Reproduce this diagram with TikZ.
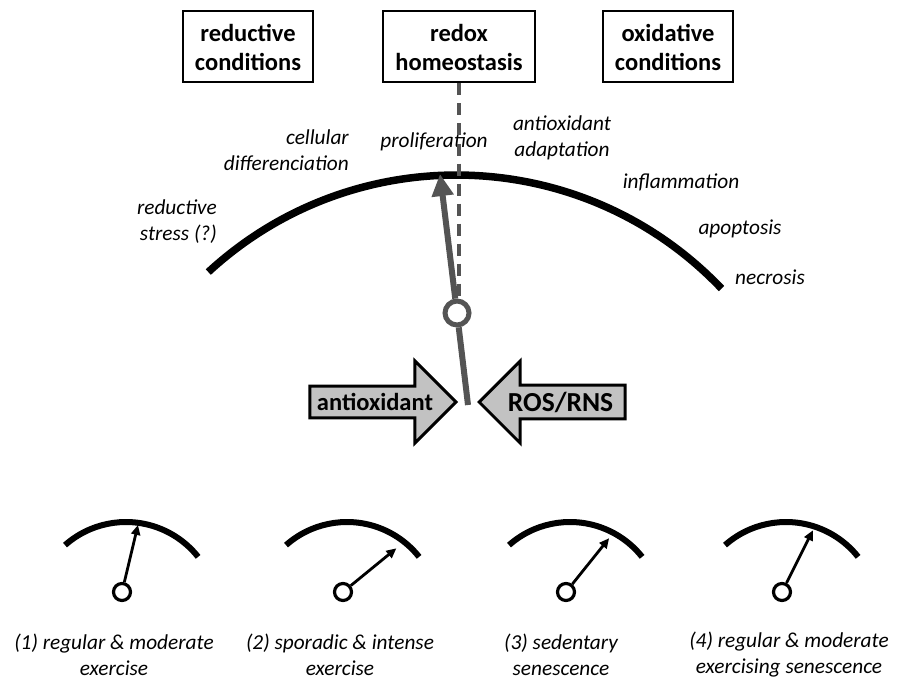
\documentclass[tikz,border=0pt]{standalone}
\usepackage{fontspec}
\setmainfont{Carlito}
\usetikzlibrary{arrows.meta,shapes.arrows}

\definecolor{needlegray}{gray}{0.33}
\definecolor{pushfill}{gray}{0.76}

\begin{document}
\begin{tikzpicture}[x=1pt, y=1pt, line join=miter]
    \tikzstyle{condbox}=[draw, line width=2pt, align=center, inner xsep=12pt,
                         minimum height=71pt,
                         font=\fontsize{24.5}{29}\selectfont\bfseries]
    \tikzstyle{effect}=[inner sep=0pt, font=\fontsize{21.3}{26}\selectfont\itshape]
    \tikzstyle{push}=[single arrow, draw, line width=3pt, fill=pushfill,
                      minimum height=146pt, minimum width=82pt,
                      single arrow head extend=21pt, inner ysep=3pt,
                      font=\fontsize{24.5}{29}\selectfont\bfseries]
    \tikzstyle{dial}=[circle, draw, fill=white, line width=3.2pt,
                      minimum size=17pt, inner sep=0pt]

    \useasboundingbox (0,0) rectangle (899,-682);

    \node[condbox]          (red)   at (248,-47)  {reductive\\conditions};
    \node[condbox]          (redox) at (459,-47)  {redox\\homeostasis};
    \node[condbox]          (ox)    at (668,-47)  {oxidative\\conditions};

    \node[effect, align=right, anchor=east] (stress) at (217,-222) {reductive\\stress (?)};
    \node[effect, align=right, anchor=east] (diff)   at (349,-150) {cellular\\differenciation};
    \node[effect]                           (prolif) at (434,-142) {proliferation};
    \node[effect, align=center]             (adapt)  at (562,-138) {antioxidant\\adaptation};
    \node[effect]                           (infl)   at (681,-182) {inflammation};
    \node[effect]                           (apop)   at (740,-229) {apoptosis};
    \node[effect]                           (necro)  at (770,-277) {necrosis};

    % main gauge
    \draw[line width=7.5pt] (456.5,-541) ++(132.7:366) arc (132.7:43.6:366);
    \node[dial, draw=needlegray, line width=5pt, minimum size=24pt] (pivot) at (457,-313) {};
    \coordinate (base) at (468,-405);
    \coordinate (tip)  at (440,-174);
    \draw[needlegray, line width=4pt, dash pattern=on 12pt off 8pt]
        (redox.south) -- (redox.south |- pivot.north);
    \draw[needlegray, line width=6pt] (base) -- (pivot);
    \draw[needlegray, line width=6pt, -{Triangle[length=22pt,width=21pt]}] (pivot) -- (tip);

    \node[push, anchor=tip]                          (anti) at (458,-402) {antioxidant};
    \node[push, anchor=tip, shape border rotate=180,
          font=\fontsize{27.5}{32}\selectfont\bfseries] (ros)  at (477,-402) {ROS/RNS};

    % small gauges
    \foreach \cx/\ang [count=\i] in {122/76.6, 343/39.3, 566/51.3, 782/63.4} {
        \draw[line width=6pt] ([shift={(131.5:92)}]\cx+4,-614) arc (131.5:38.4:92);
        \node[dial] (g\i) at (\cx,-592) {};
        \coordinate (t\i) at ([shift={(\ang:69)}]g\i.center);
        \draw[line width=2.8pt, -{Triangle[length=10pt,width=9pt]}] (g\i) -- (t\i);
    }

    \node[effect, align=center] (c1) at (114,-655) {(1) regular \& moderate\\exercise};
    \node[effect, align=center] (c2) at (340,-655) {(2) sporadic \& intense\\exercise};
    \node[effect, align=center] (c3) at (561,-655) {(3) sedentary\\senescence};
    \node[effect, align=center] (c4) at (789,-655) {(4) regular \& moderate\\exercising senescence};
\end{tikzpicture}
\end{document}
